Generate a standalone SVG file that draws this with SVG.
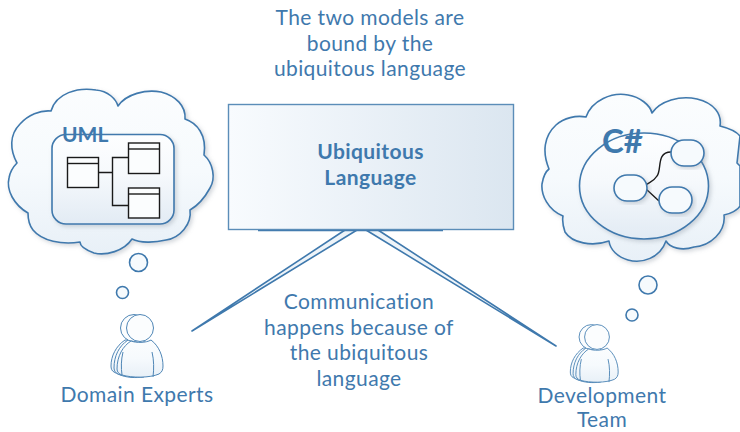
<svg xmlns="http://www.w3.org/2000/svg" width="740" height="432" viewBox="0 0 740 432">
<style>
.t{font-family:"Lato","Liberation Sans",sans-serif;font-size:21px;letter-spacing:.4px;fill:#3f79ad;text-anchor:middle}
.b{font-weight:700}
.h{font-family:"Lato","Liberation Sans",sans-serif;font-weight:700;fill:#3f79ad}
.s{stroke:#3f79ad;stroke-width:1.6;stroke-linejoin:round}
.c{fill:url(#cloud);filter:url(#sh)}
.w{fill:#f6fafd}
.k{fill:none;stroke:#1a1a1a;stroke-width:1.4}
.kw{fill:#fbfdfe;stroke:#1a1a1a;stroke-width:1.4}
.p{fill:url(#cloud);stroke:#4f86b6;stroke-width:1;stroke-linejoin:round}
.pl{fill:none;stroke:#4f86b6;stroke-width:1}
</style>
<defs>
<linearGradient id="cloud" x1="0" y1="0" x2="0" y2="1"><stop offset="0" stop-color="#fbfdfe"/><stop offset="0.5" stop-color="#f6fafd"/><stop offset="1" stop-color="#e8f0f7"/></linearGradient>
<linearGradient id="inner" x1="0" y1="0" x2="0" y2="1"><stop offset="0" stop-color="#fdfeff"/><stop offset="0.45" stop-color="#f6f9fc"/><stop offset="1" stop-color="#e2ebf4"/></linearGradient>
<linearGradient id="box" x1="0" y1="0" x2="1" y2="0"><stop offset="0" stop-color="#f8fbfe"/><stop offset="1" stop-color="#dbe6f0"/></linearGradient>
<filter id="sh" x="-10%" y="-10%" width="125%" height="125%"><feDropShadow dx="2" dy="2" stdDeviation="2" flood-color="#7f8c99" flood-opacity="0.35"/></filter>
<g id="person">
<path class="p" d="M-15 12C-24 18-29 28-29 38C-29 41-28 43-26 44C-20 48-10 49 0 49L0 12Z"/>
<path class="p" d="M-12 12C-21 18-26 28-26 40C-26 43-24 45-22 46C-14 50-4 50 4 49L4 12Z"/>
<circle class="p" cx="-6" cy="0" r="13.500" style="fill:#fbfdfe"/>
<path class="p" d="M-9 13C-17 18-23 28-23 41C-23 44-21 46-18 47C-8 50 10 50 19 46C22 44 23 42 23 38C23 28 19 18 11 12C6 15-4 15-9 13Z"/>
<circle class="p" cx="0" cy="0" r="13.500" style="fill:#fbfdfe"/>
<path class="pl" d="M-17 24C-19 32-19 40-18 47M12 24C14 32 14 41 13 49"/>
</g>
</defs>
<g id="connectors">
<path d="M345 230L192 331L357 230Z" fill="#eef4f9" class="s"/>
<path d="M366 230L556 346L378 230Z" fill="#eef4f9" class="s"/>
<path d="M258 230H443" stroke="#3f79ad" stroke-width="2.500" fill="none"/>
</g>
<g id="ubiquitous-language">
<rect x="228.500" y="104.500" width="285" height="125" fill="url(#box)" stroke="#5b8db8" stroke-width="1.400"/>
<text class="t b" x="370.500" y="159">Ubiquitous</text>
<text class="t b" x="370.500" y="185">Language</text>
</g>
<g id="uml-cloud">
<path class="c s" d="M51 111C56 93 78 87 96 90C108 91 116 99 118 106C126 94 146 89 161 92C176 96 186 106 185 119C197 123 207 135 204 155C213 163 216 178 210 188C204 199 197 206 190 210C192 224 180 238 166 240C154 243 140 243 132 239C124 251 106 256 94 253C86 250 80 247 80 242C62 245 42 241 33 230C29 225 28 219 28 213C14 205 6 190 9 178C10 172 13 167 17 163C10 150 9 135 20 124C28 115 40 110 51 111Z"/>
<circle class="w s" cx="138.500" cy="262.500" r="9"/>
<circle class="w s" cx="122.500" cy="292.500" r="6"/>
<rect x="52" y="134.500" width="122" height="89.500" rx="14" fill="url(#inner)" class="s" filter="url(#sh)"/>
<text class="h" x="62" y="142" font-size="21">UML</text>
<rect class="kw" x="67.500" y="157.500" width="31" height="30"/><path class="k" d="M67.500 163.500H98.500"/>
<rect class="kw" x="128.500" y="143" width="31" height="30.500"/><path class="k" d="M128.500 149H159.500"/>
<rect class="kw" x="128.500" y="188" width="31" height="30"/><path class="k" d="M128.500 194H159.500"/>
<path class="k" d="M98.500 172.500H112.500M128.500 157.500H112.500V205.500H128.500"/>
</g>
<g id="csharp-cloud">
<path class="c s" d="M586 117C592 100 612 92 628 95C640 97 650 105 652 113C660 101 680 95 697 99C714 103 722 114 720 126C728 128 736 131 740 136L737 163L740 166V206C738 210 730 214 724 215C726 232 710 246 694 247C682 251 670 248 666 241C660 258 642 264 628 260C618 257 610 250 609 241C592 247 572 243 565 232C563 226 562 221 563 216C548 210 541 195 542 184C543 178 545 172 549 169C542 152 544 136 556 125C564 118 576 115 586 117Z"/>
<circle class="w s" cx="648" cy="285" r="9"/>
<circle class="w s" cx="632" cy="315" r="6"/>
<ellipse cx="644" cy="186" rx="64.500" ry="53" fill="url(#inner)" class="s" filter="url(#sh)"/>
<text class="h" x="602" y="153" font-size="33">C#</text>
<path class="k" d="M671 152C656 152 662 170 657 176C654 181 650 182 646 185M646 189L659 201"/>
<rect x="671" y="140" width="33" height="26" rx="13" class="w s" filter="url(#sh)"/>
<rect x="614" y="175" width="33" height="26" rx="13" class="w s" filter="url(#sh)"/>
<rect x="659" y="187" width="33" height="26" rx="13" class="w s" filter="url(#sh)"/>
</g>
<g id="domain-experts">
<use href="#person" transform="translate(140 328)"/>
<text class="t" x="137" y="402">Domain Experts</text>
</g>
<g id="development-team">
<use href="#person" transform="translate(597 337) scale(.92)"/>
<text class="t" x="602" y="403">Development</text>
<text class="t" x="602" y="427">Team</text>
</g>
<g id="labels">
<text class="t" x="370" y="25">The two models are</text>
<text class="t" x="370" y="51">bound by the</text>
<text class="t" x="370" y="76">ubiquitous language</text>
<text class="t" x="359" y="309">Communication</text>
<text class="t" x="359" y="335">happens because of</text>
<text class="t" x="359" y="360">the ubiquitous</text>
<text class="t" x="359" y="386">language</text>
</g>
</svg>
